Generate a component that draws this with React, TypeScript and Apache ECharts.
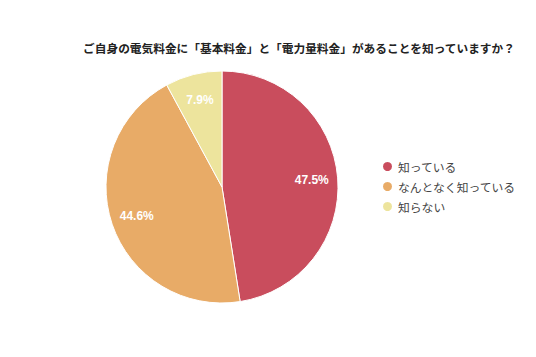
import React, { useEffect, useRef } from "react";
import * as echarts from "echarts";

const titleText = "ご自身の電気料金に「基本料金」と「電力量料金」があることを知っていますか？";
const categories = ["知っている", "なんとなく知っている", "知らない"];
const values = [47.5, 44.6, 7.9];
const colors = ["#c94d5d", "#e8ab67", "#ede49d"];

export default function App() {
  const ref = useRef<HTMLDivElement>(null);
  useEffect(() => {
    document.body.style.margin = "0";
    const chart = echarts.init(ref.current!, undefined, { renderer: "svg" });
    const data = categories.map((name, i) => ({
      name,
      value: values[i],
      itemStyle: { color: colors[i] },
    }));
    const center = [222, 187];
    chart.setOption({
      animation: false,
      backgroundColor: "#ffffff",
      title: {
        text: titleText,
        left: 294,
        textAlign: "center",
        top: 37,
        textStyle: {
          fontSize: 11.7,
          fontWeight: "bold",
          color: "#222",
          fontFamily: "Noto Sans CJK JP",
        },
      },
      legend: {
        orient: "vertical",
        left: 376,
        top: 155,
        icon: "circle",
        itemWidth: 11,
        itemHeight: 11,
        itemGap: 7,
        data: categories,
        textStyle: {
          fontSize: 11.8,
          color: "#444",
          fontFamily: "Noto Sans CJK JP",
        },
      },
      series: [
        {
          type: "pie",
          center,
          radius: [0, 116],
          startAngle: 90,
          clockwise: true,
          label: { show: false },
          labelLine: { show: false },
          itemStyle: { borderColor: "#ffffff", borderWidth: 1 },
          data,
        },
        {
          type: "pie",
          center,
          radius: [58, 116],
          startAngle: 90,
          clockwise: true,
          silent: true,
          itemStyle: { color: "rgba(0,0,0,0)" },
          label: {
            show: true,
            position: "inside",
            formatter: (p: any) => p.value.toFixed(1) + "%",
            color: "#ffffff",
            fontSize: 12,
            fontWeight: "bold",
            fontFamily: "Liberation Sans, Arial, sans-serif",
          },
          labelLine: { show: false },
          data: categories.map((name, i) => ({ name, value: values[i] })),
        },
      ],
    });
    return () => chart.dispose();
  }, []);
  return <div ref={ref} style={{ width: 536, height: 357 }} />;
}
